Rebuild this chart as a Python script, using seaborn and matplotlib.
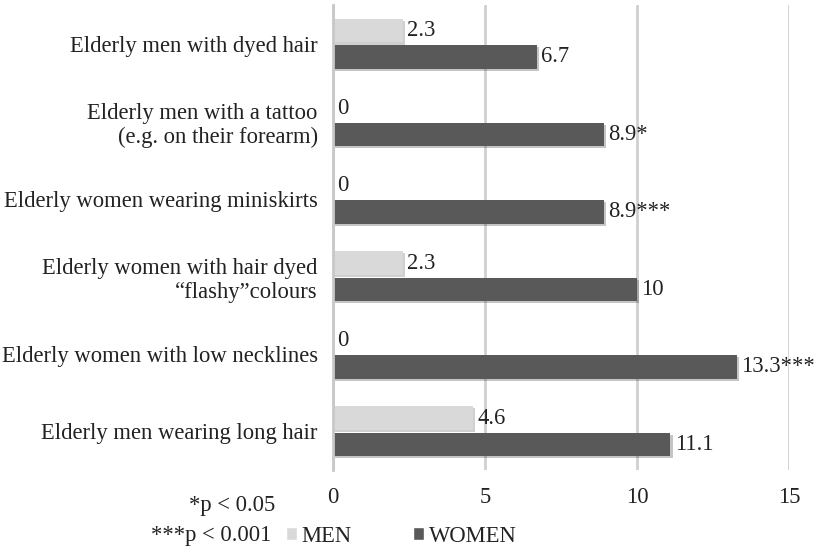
import matplotlib
matplotlib.use("Agg")
import matplotlib.pyplot as plt
import matplotlib.patheffects as pe
from matplotlib.patches import Patch
import seaborn as sns
import pandas as pd

categories = [
    "Elderly men with dyed hair",
    "Elderly men with a tattoo\n(e.g. on their forearm)",
    "Elderly women wearing miniskirts",
    "Elderly women with hair dyed\n\u201cflashy\u201dcolours",
    "Elderly women with low necklines",
    "Elderly men wearing long hair",
]
men_values = [2.3, 0, 0, 2.3, 0, 4.6]
women_values = [6.7, 8.9, 8.9, 10, 13.3, 11.1]
men_labels = ["2.3", "0", "0", "2.3", "0", "4.6"]
women_labels = ["6.7", "8.9*", "8.9***", "10", "13.3***", "11.1"]
series = ["MEN", "WOMEN"]
colors = {"MEN": "#d9d9d9", "WOMEN": "#595959"}

df = pd.DataFrame({
    "category": categories * 2,
    "value": men_values + women_values,
    "sex": ["MEN"] * len(categories) + ["WOMEN"] * len(categories),
})

sns.set_style("white")
plt.rcParams["font.family"] = ["Liberation Serif", "DejaVu Serif"]
FS = 16.3

fig = plt.figure(figsize=(8.17, 5.48), dpi=100)
ax = fig.add_axes([333 / 817, 1 - 470 / 548, (789 - 333) / 817, (470 - 5) / 548])

sns.barplot(data=df, y="category", x="value", hue="sex", orient="h",
            palette=colors, hue_order=series, order=categories,
            width=0.68, gap=0.1, ax=ax, legend=False, saturation=1,
            linewidth=0)

for cont, labs in zip(ax.containers, [men_labels, women_labels]):
    for bar in cont:
        bar.set_path_effects([pe.SimplePatchShadow(offset=(1.5, -1.5), alpha=0.25), pe.Normal()])
    ax.bar_label(cont, labels=labs, padding=3, fontsize=FS, color="#222222")

ax.set_xlim(0, 15)
ax.set_xticks([0, 5, 10, 15])
ax.xaxis.grid(True, color="#d0d0d0", linewidth=2)
ax.set_axisbelow(True)
for s in ["top", "right", "bottom"]:
    ax.spines[s].set_visible(False)
ax.spines["left"].set_color("#c8c8c8")
ax.spines["left"].set_linewidth(2)
ax.tick_params(axis="both", length=0, labelsize=FS, colors="#222222")
ax.tick_params(axis="x", pad=12)
ax.tick_params(axis="y", pad=11)
ax.set_xlabel("")
ax.set_ylabel("")

fig.text(232 / 817, 1 - 506 / 548, "*p < 0.05", ha="center", va="center", fontsize=FS, color="#222222")
fig.text(211 / 817, 1 - 536 / 548, "***p < 0.001", ha="center", va="center", fontsize=FS, color="#222222")

handles = [Patch(facecolor=colors[s], label=s) for s in series]
fig.legend(handles=handles, ncol=2, loc="center left",
           bbox_to_anchor=(286 / 817, 1 - 536 / 548), frameon=False,
           fontsize=FS, handlelength=0.5, handleheight=0.5, handletextpad=0.2,
           columnspacing=2.7, labelcolor="#222222", borderpad=0, borderaxespad=0)

fig.savefig("out.png", dpi=100)
